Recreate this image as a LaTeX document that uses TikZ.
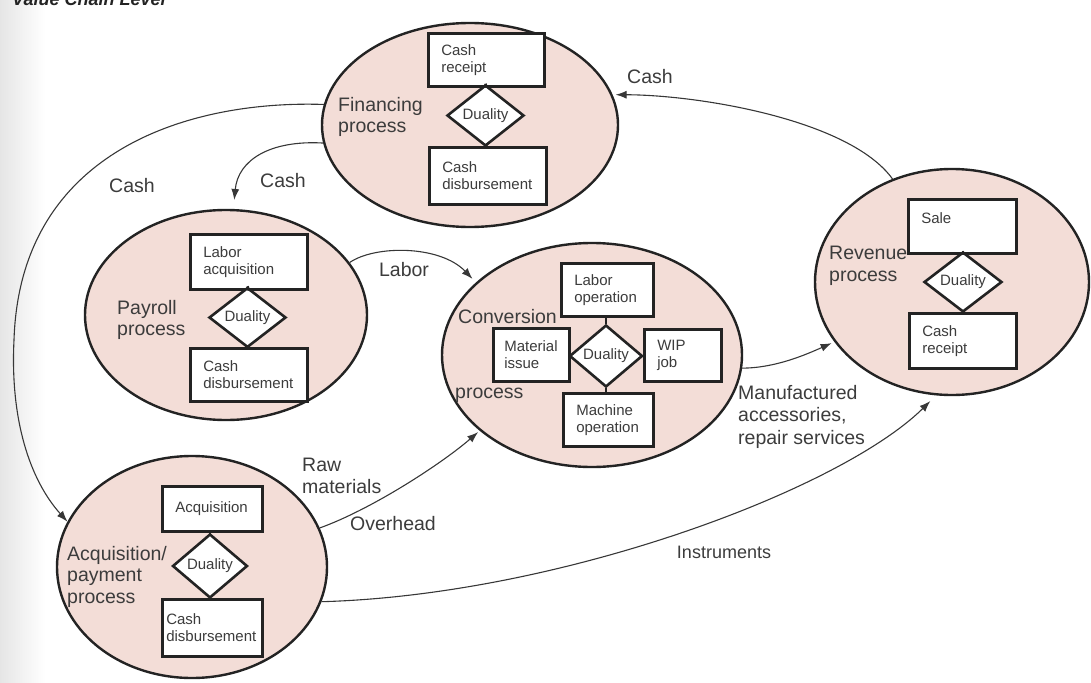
\documentclass[tikz,border=0pt]{standalone}
\usepackage{fontspec}
\setmainfont{Liberation Sans}
\usetikzlibrary{shapes.geometric,arrows.meta}
\definecolor{procfill}{RGB}{243,221,215}
\definecolor{ink}{RGB}{35,35,35}
\definecolor{txt}{RGB}{60,60,60}
\definecolor{flowink}{RGB}{55,55,55}

\begin{document}
\begin{tikzpicture}[x=1pt,y=-1pt,
  proc/.style={ellipse, draw=ink, line width=2.4pt, fill=procfill, inner sep=0pt},
  evbox/.style={rectangle, draw=ink, line width=2.6pt, fill=white, anchor=north west,
    inner xsep=13pt, inner ysep=0pt, align=left, text=txt,
    font=\fontsize{15}{17}\selectfont},
  duality/.style={diamond, draw=ink, line width=2.6pt, fill=white, inner sep=0pt,
    text=txt, font=\fontsize{15}{17}\selectfont},
  link/.style={draw=ink, line width=2.6pt},
  plabel/.style={align=left, inner sep=0pt, text=txt,
    font=\fontsize{19.5}{21.5}\selectfont},
  flow/.style={draw=flowink, line width=1.1pt, -{Latex[length=11pt,width=8pt]}},
]
\useasboundingbox (0,0) rectangle (1091,682);
\clip (0,0) rectangle (1091,682);

% page gutter shade along the left edge
\shade[left color=black!10, right color=white, draw=none] (0,0) rectangle (45,682);

\node[anchor=base west, inner sep=0pt, text=ink,
  font=\fontsize{18}{20}\selectfont\bfseries\itshape] (title) at (12,6) {Value Chain Level};

% ---------- processes ----------
\node[proc, minimum width=296pt, minimum height=204pt] (fin)  at (470,125) {};
\node[proc, minimum width=282pt, minimum height=210pt] (pay)  at (226,315) {};
\node[proc, minimum width=300pt, minimum height=224pt] (conv) at (592,355) {};
\node[proc, minimum width=274pt, minimum height=226pt] (rev)  at (952,282) {};
\node[proc, minimum width=270pt, minimum height=222pt] (acq)  at (192,567) {};

% ---------- financing ----------
\node[evbox, text width=90pt, minimum height=53pt] (fr) at (427,32) {Cash\\receipt};
\node[evbox, text width=91pt, minimum height=57pt] (fd) at (428,146) {Cash\\disbursement};
\node[duality, minimum width=77pt, minimum height=61pt] (fdia) at (485.5,115.5) {Duality};
\draw[link] (fdia.north) -- (fr.south);
\draw[link] (fdia.south) -- (fd.north);
\node[plabel, anchor=north west] (finlbl) at (338,97) {Financing\\process};

% ---------- payroll ----------
\node[evbox, text width=91pt, minimum height=55pt] (pa) at (189,233) {Labor\\acquisition};
\node[evbox, text width=91pt, minimum height=53pt] (pd) at (189,347) {Cash\\disbursement};
\node[duality, minimum width=77pt, minimum height=59pt] (pdia) at (247.5,317.5) {Duality};
\draw[link] (pdia.north) -- (pa.south);
\draw[link] (pdia.south) -- (pd.north);
\node[plabel, anchor=north west] (paylbl) at (117,300) {Payroll\\process};

% ---------- conversion ----------
\node[evbox, text width=66pt, minimum height=53pt] (clo) at (560,262) {Labor\\operation};
\node[evbox, inner xsep=11pt, text width=54pt, minimum height=53pt] (cmi) at (492,327) {Material\\issue};
\node[evbox, text width=51pt, minimum height=52pt] (cwip) at (643,328) {WIP\\job};
\node[evbox, text width=64pt, minimum height=53pt] (cmo) at (562,392) {Machine\\operation};
\node[duality, minimum width=73pt, minimum height=62pt] (cdia) at (606,356) {Duality};
\draw[link] (cdia.north) -- (clo.south -| cdia.north);
\draw[link] (cdia.south) -- (cmo.north -| cdia.south);
\draw[link] (cdia.west) -- (cmi.east |- cdia.west);
\draw[link] (cdia.east) -- (cwip.west |- cdia.east);
\node[plabel, anchor=north west] (convlbl) at (458,309) {Conversion};
\node[plabel, anchor=base west] (convlbl2) at (455,398) {process};

% ---------- revenue ----------
\node[evbox, text width=82pt, minimum height=54pt] (rs) at (907,198) {Sale\\\mbox{}};
\node[evbox, text width=81pt, minimum height=55pt] (rc) at (908,312) {Cash\\receipt};
\node[duality, minimum width=78pt, minimum height=60pt] (rdia) at (963,282) {Duality};
\draw[link] (rdia.north) -- (rs.south -| rdia.north);
\draw[link] (rdia.south) -- (rc.north -| rdia.south);
\node[plabel, anchor=north west] (revlbl) at (829,246) {Revenue\\process};

% ---------- acquisition / payment ----------
\node[evbox, text width=74pt, minimum height=45pt] (aa) at (161,485) {Acquisition};
\node[evbox, inner xsep=4pt, text width=92pt, minimum height=57pt] (ad) at (161,598) {Cash\\disbursement};
\node[duality, minimum width=75pt, minimum height=64pt] (adia) at (210,566) {Duality};
\draw[link] (adia.north) -- (aa.south -| adia.north);
\draw[link] (adia.south) -- (ad.north -| adia.south);
\node[plabel, anchor=north west] (acqlbl) at (67,546) {Acquisition/\\payment\\process};

% ---------- resource flows ----------
\draw[flow, shorten >=3pt] (rev.120) .. controls (850,120) and (700,95) .. (fin.12);
\draw[flow] (fin.172) .. controls (190,100) and (20,150) .. (14,340)
                      .. controls (10,420) and (30,480) .. (acq.160);
\draw[flow, shorten >=9pt] (fin.187) .. controls (270,140) and (238,160) .. (pay.86);
\draw[flow, shorten >=5pt] (pay.23) .. controls (375,245) and (440,245) .. (conv.148);
\draw[flow, shorten >=2pt] (acq.17) .. controls (370,510) and (440,465) .. (conv.214);
\draw[flow, shorten >=3pt] (conv.-5) .. controls (775,368) and (805,355) .. (rev.207);
\draw[flow, shorten >=8pt] (acq.-15) .. controls (560,595) and (840,490) .. (rev.262);

% ---------- flow labels ----------
\node[plabel] (lcash1) at (650,77) {Cash};
\node[plabel] (lcash2) at (132,186) {Cash};
\node[plabel] (lcash3) at (283,181) {Cash};
\node[plabel] (llabor) at (404,270) {Labor};
\node[plabel, anchor=north west] (lraw) at (302,458) {Raw\\materials};
\node[plabel] (lover) at (393,524) {Overhead};
\node[plabel, anchor=north west, font=\fontsize{19.5}{22.5}\selectfont] (lmanu) at (738,385)
  {Manufactured\\accessories,\\repair services};
\node[plabel, font=\fontsize{18}{20}\selectfont] (linst) at (724,552) {Instruments};
\end{tikzpicture}
\end{document}
